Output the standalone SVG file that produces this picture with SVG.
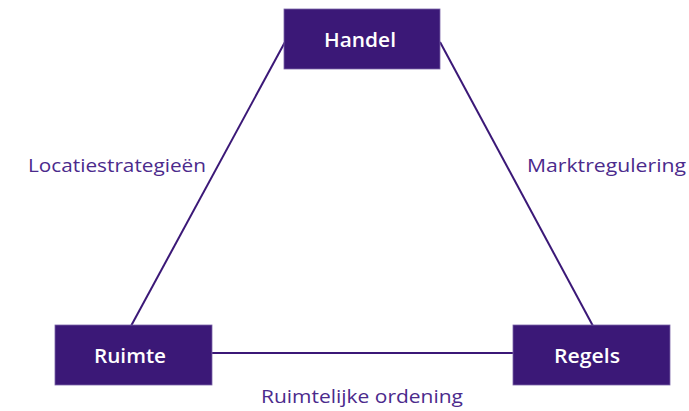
<svg xmlns="http://www.w3.org/2000/svg" width="689" height="411" viewBox="0 0 689 411">
<style>
.box{fill:#3b1877;stroke:#7a64a8;stroke-width:0.8}
.nt{font-family:"Open Sans","Noto Sans",sans-serif;font-weight:600;font-size:19px;fill:#ffffff;text-anchor:middle}
.lbl{font-family:"Open Sans","Noto Sans",sans-serif;font-size:18.5px;fill:#4b2a8c}
.ln{stroke:#3b1877;stroke-width:2;fill:none}
</style>
<rect width="689" height="411" fill="#ffffff"/>
<g id="connectors">
<line class="ln" x1="131" y1="326" x2="285" y2="42"/>
<line class="ln" x1="440" y1="42" x2="593" y2="326"/>
<line class="ln" x1="212" y1="353" x2="514" y2="353"/>
</g>
<g id="labels">
<text class="lbl" x="28" y="172" textLength="178" lengthAdjust="spacingAndGlyphs">Locatiestrategieën</text>
<text class="lbl" x="527" y="172" textLength="159" lengthAdjust="spacingAndGlyphs">Marktregulering</text>
<text class="lbl" x="261" y="403" textLength="202" lengthAdjust="spacingAndGlyphs">Ruimtelijke ordening</text>
</g>
<g id="handel">
<rect class="box" x="284" y="9" width="156" height="60"/>
<text class="nt" x="360" y="47" textLength="72" lengthAdjust="spacingAndGlyphs">Handel</text>
</g>
<g id="ruimte">
<rect class="box" x="55" y="325" width="157" height="60"/>
<text class="nt" x="130" y="363" textLength="72" lengthAdjust="spacingAndGlyphs">Ruimte</text>
</g>
<g id="regels">
<rect class="box" x="513" y="325" width="157" height="60"/>
<text class="nt" x="587" y="363" textLength="66" lengthAdjust="spacingAndGlyphs">Regels</text>
</g>
</svg>
